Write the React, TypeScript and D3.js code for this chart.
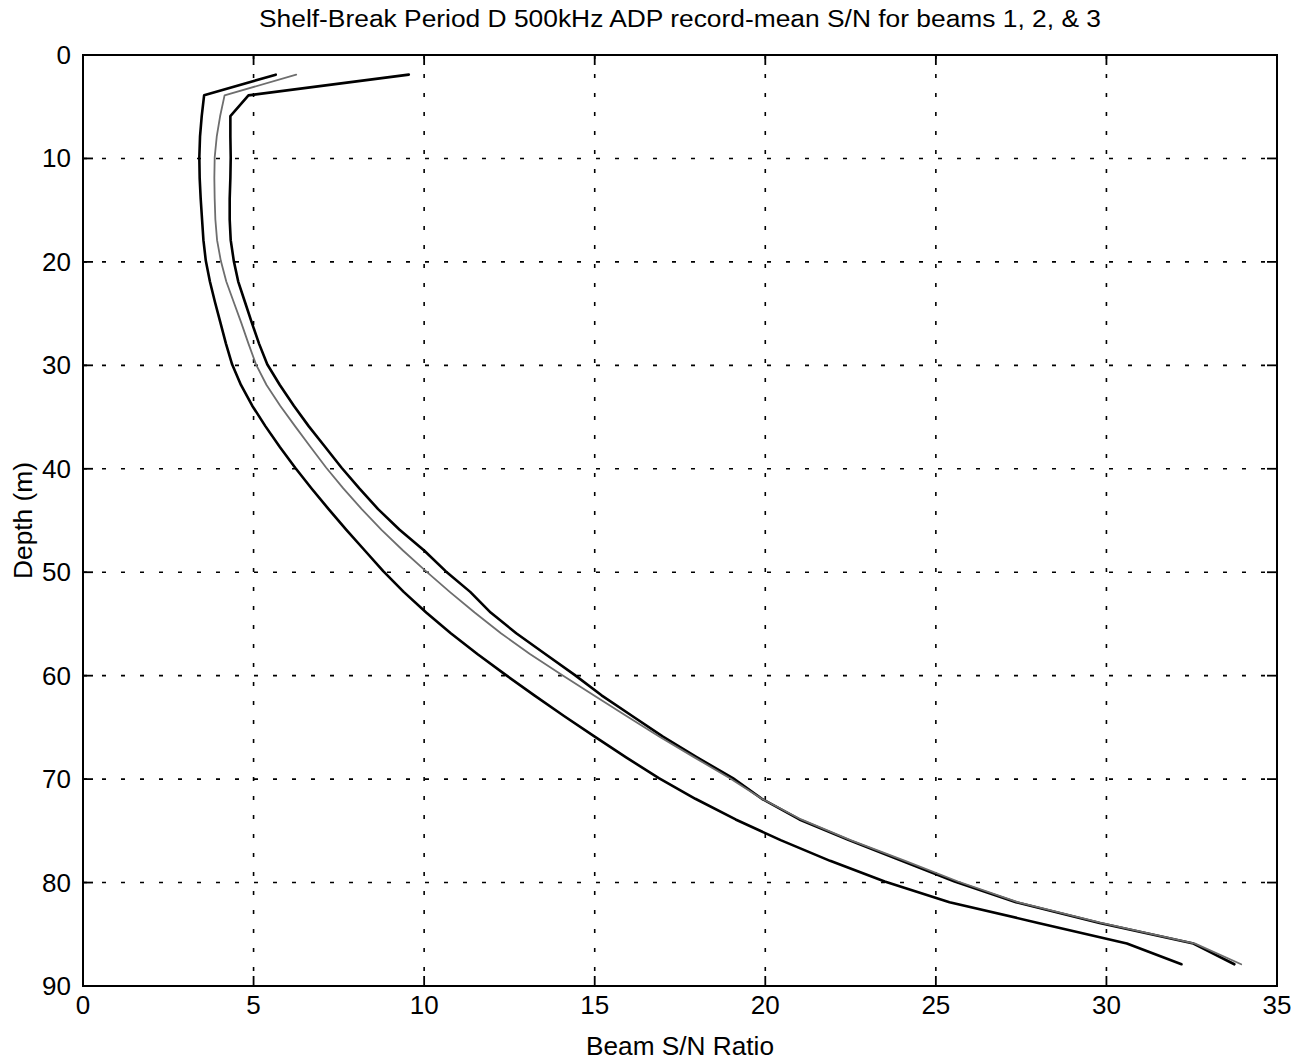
import React from 'react';
import * as d3 from 'd3';

const title = 'Shelf-Break Period D 500kHz ADP record-mean S/N for beams 1, 2, & 3';
const xLabel = 'Beam S/N Ratio';
const yLabel = 'Depth (m)';

const depths = [
  1.9, 3.9, 5.9, 7.9, 9.9, 11.9, 13.9, 15.9, 17.9, 19.9, 21.9, 23.9, 25.9, 27.9, 29.9,
  31.9, 33.9, 35.9, 37.9, 39.9, 41.9, 43.9, 45.9, 47.9, 49.9, 51.9, 53.9, 55.9, 57.9, 59.9,
  61.9, 63.9, 65.9, 67.9, 69.9, 71.9, 73.9, 75.9, 77.9, 79.9, 81.9, 83.9, 85.9, 87.9,
];

// left-most black curve
const beamLeft = [
  5.65, 3.55, 3.48, 3.43, 3.41, 3.42, 3.45, 3.49, 3.53, 3.6, 3.72, 3.87, 4.03, 4.19, 4.37,
  4.63, 4.96, 5.35, 5.77, 6.22, 6.7, 7.2, 7.72, 8.26, 8.8, 9.4, 10.06, 10.78, 11.56, 12.38,
  13.23, 14.1, 15.0, 15.92, 16.88, 17.95, 19.13, 20.45, 21.9, 23.5, 25.4, 28.0, 30.6, 32.2,
];

// grey curve
const beamGrey = [
  6.25, 4.15, 4.02, 3.92, 3.86, 3.85, 3.86, 3.88, 3.93, 4.04, 4.2, 4.42, 4.64, 4.85, 5.07,
  5.38, 5.78, 6.22, 6.67, 7.13, 7.63, 8.17, 8.75, 9.38, 10.05, 10.75, 11.48, 12.25, 13.1, 14.03,
  14.97, 15.93, 16.9, 17.92, 18.95, 19.9, 21.05, 22.5, 24.1, 25.65, 27.4, 29.85, 32.6, 33.95,
];

// right black curve
const beamRight = [
  9.55, 4.85, 4.32, 4.32, 4.33, 4.32, 4.3, 4.3, 4.33, 4.42, 4.55, 4.75, 4.95, 5.16, 5.4,
  5.77, 6.18, 6.62, 7.1, 7.58, 8.1, 8.65, 9.28, 10.0, 10.63, 11.35, 11.95, 12.7, 13.55, 14.4,
  15.2, 16.1, 17.0, 18.0, 19.05, 19.9, 21.0, 22.45, 24.0, 25.55, 27.35, 29.8, 32.55, 33.75,
];

const xTicks = [0, 5, 10, 15, 20, 25, 30, 35];
const yTicks = [0, 10, 20, 30, 40, 50, 60, 70, 80, 90];

const W = 1306;
const H = 1063;
const L = 83;
const R = 1277;
const T = 55;
const B = 986;

export default function App() {
  const x = d3.scaleLinear().domain([0, 35]).range([L, R]);
  const y = d3.scaleLinear().domain([0, 90]).range([T, B]);
  const mk = (vals: number[]) =>
    d3
      .line<number>()
      .x((v) => x(v))
      .y((_, i) => y(depths[i]))(vals) as string;

  const font = "'Liberation Sans', Arial, Helvetica, sans-serif";
  const tickLen = 10;

  return (
    <svg
      width={W}
      height={H}
      viewBox={`0 0 ${W} ${H}`}
      style={{ position: 'absolute', left: 0, top: 0, background: '#fff' }}
    >
      <rect x={0} y={0} width={W} height={H} fill="#fff" />
      {/* grid */}
      <g stroke="#000" strokeWidth={1.6} strokeDasharray="4 15" fill="none">
        {xTicks.slice(1, -1).map((t) => (
          <line key={'gx' + t} x1={x(t)} x2={x(t)} y1={T} y2={B} />
        ))}
        {yTicks.slice(1, -1).map((t) => (
          <line key={'gy' + t} x1={L} x2={R} y1={y(t)} y2={y(t)} />
        ))}
      </g>
      {/* ticks */}
      <g stroke="#000" strokeWidth={1.8}>
        {xTicks.map((t) => (
          <g key={'tx' + t}>
            <line x1={x(t)} x2={x(t)} y1={B} y2={B - tickLen} />
            <line x1={x(t)} x2={x(t)} y1={T} y2={T + tickLen} />
          </g>
        ))}
        {yTicks.map((t) => (
          <g key={'ty' + t}>
            <line x1={L} x2={L + tickLen} y1={y(t)} y2={y(t)} />
            <line x1={R} x2={R - tickLen} y1={y(t)} y2={y(t)} />
          </g>
        ))}
      </g>
      {/* curves */}
      <g fill="none" strokeLinejoin="round" strokeLinecap="round">
        <path d={mk(beamLeft)} stroke="#000" strokeWidth={2.6} />
        <path d={mk(beamRight)} stroke="#000" strokeWidth={2.6} />
        <path d={mk(beamGrey)} stroke="#6e6e6e" strokeWidth={1.8} />
      </g>
      {/* box */}
      <rect x={L} y={T} width={R - L} height={B - T} fill="none" stroke="#000" strokeWidth={2} />
      {/* tick labels */}
      <g fontFamily={font} fontSize={26} fill="#000">
        {xTicks.map((t) => (
          <text key={'lx' + t} x={x(t)} y={B + 28} textAnchor="middle">
            {t}
          </text>
        ))}
        {yTicks.map((t) => (
          <text key={'ly' + t} x={L - 12} y={y(t) + 9} textAnchor="end">
            {t}
          </text>
        ))}
      </g>
      {/* titles */}
      <text
        x={(L + R) / 2}
        y={27}
        textAnchor="middle"
        fontFamily={font}
        fontSize={23}
        textLength={842}
        lengthAdjust="spacingAndGlyphs"
        fill="#000"
      >
        {title}
      </text>
      <text
        x={(L + R) / 2}
        y={1055}
        textAnchor="middle"
        fontFamily={font}
        fontSize={25}
        textLength={188}
        lengthAdjust="spacingAndGlyphs"
        fill="#000"
      >
        {xLabel}
      </text>
      <text
        transform={`translate(32, ${(T + B) / 2}) rotate(-90)`}
        textAnchor="middle"
        fontFamily={font}
        fontSize={25}
        textLength={117}
        lengthAdjust="spacingAndGlyphs"
        fill="#000"
      >
        {yLabel}
      </text>
    </svg>
  );
}
